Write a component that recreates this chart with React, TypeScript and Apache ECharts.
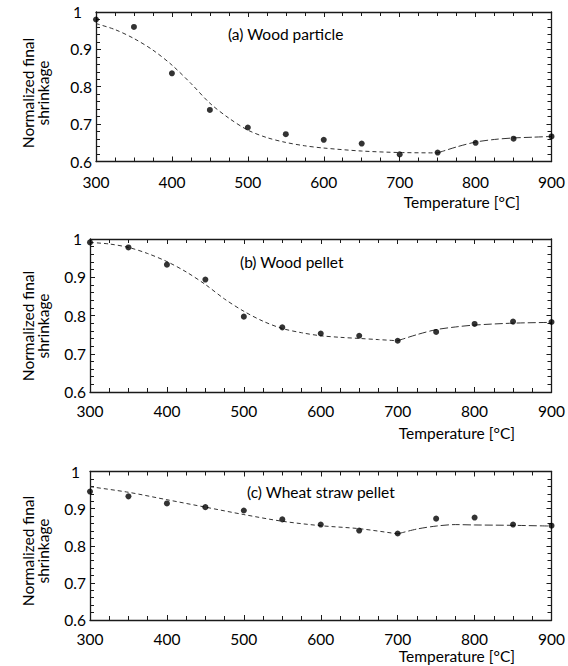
import { useEffect, useRef } from "react";
import * as echarts from "echarts";

// Heat-treatment temperatures (°C) shared by all three materials
const TEMPS = [300, 350, 400, 450, 500, 550, 600, 650, 700, 750, 800, 850, 900];

// Measured normalized final shrinkage
const SHRINK_WOOD_PARTICLE = [0.98, 0.96, 0.836, 0.738, 0.691, 0.673, 0.658, 0.648, 0.619, 0.624, 0.65, 0.661, 0.667];
const SHRINK_WOOD_PELLET = [0.991, 0.978, 0.933, 0.894, 0.797, 0.769, 0.753, 0.747, 0.734, 0.757, 0.778, 0.784, 0.783];
const SHRINK_WHEAT_PELLET = [0.946, 0.933, 0.914, 0.904, 0.895, 0.871, 0.857, 0.841, 0.833, 0.873, 0.876, 0.857, 0.854];

// Model curves: low-temperature branch and high-temperature branch
const FIT_A_T1 = [300, 325, 350, 375, 400, 425, 450, 475, 500, 525, 550, 575, 600, 650, 700, 750];
const FIT_A_V1 = [0.969, 0.953, 0.929, 0.898, 0.858, 0.809, 0.756, 0.716, 0.684, 0.664, 0.651, 0.642, 0.636, 0.628, 0.624, 0.623];
const FIT_A_T2 = [750, 775, 800, 825, 850, 875, 900];
const FIT_A_V2 = [0.623, 0.639, 0.652, 0.659, 0.663, 0.665, 0.667];

const FIT_B_T1 = [300, 325, 350, 375, 400, 425, 450, 475, 500, 525, 550, 575, 600, 625, 650, 675, 700];
const FIT_B_V1 = [0.991, 0.987, 0.978, 0.962, 0.941, 0.914, 0.881, 0.843, 0.811, 0.785, 0.766, 0.755, 0.747, 0.743, 0.74, 0.737, 0.734];
const FIT_B_T2 = [700, 725, 750, 775, 800, 850, 900];
const FIT_B_V2 = [0.734, 0.75, 0.763, 0.77, 0.775, 0.78, 0.782];

const FIT_C_T1 = [300, 350, 400, 450, 500, 550, 600, 650, 700];
const FIT_C_V1 = [0.959, 0.944, 0.924, 0.904, 0.884, 0.866, 0.854, 0.846, 0.832];
const FIT_C_T2 = [700, 725, 750, 775, 800, 850, 900];
const FIT_C_V2 = [0.832, 0.845, 0.853, 0.857, 0.856, 0.855, 0.853];

// Axis ticks
const X_MIN = 300;
const X_MAX = 900;
const X_STEP = 100;
const Y_MIN = 0.6;
const Y_MAX = 1;
const Y_STEP = 0.1;

const PANEL_TITLES = ["(a) Wood particle", "(b) Wood pellet", "(c) Wheat straw pellet"];
const X_TITLE = "Temperature [°C]";
const Y_TITLE = "Normalized final\nshrinkage";

const FONT = 'Lato, "Open Sans", sans-serif';
const FS = 15.5;
const LH = 15;
const INK = "#000";
const AXIS = "#1a1a1a";

const pairs = (xs: number[], ys: number[]) => xs.map((x, i) => [x, ys[i]]);

const PANELS = [
  {
    grid: { left: 96, top: 12, width: 459, height: 149.5 },
    points: SHRINK_WOOD_PARTICLE,
    fit1: pairs(FIT_A_T1, FIT_A_V1),
    fit2: pairs(FIT_A_T2, FIT_A_V2),
    titlePos: [228, 34],
    xTitlePos: [520, 202],
    yTitlePos: [35.5, 93],
    xLabelMargin: 12.5,
    onePad: 10,
  },
  {
    grid: { left: 90, top: 239, width: 465, height: 153 },
    points: SHRINK_WOOD_PELLET,
    fit1: pairs(FIT_B_T1, FIT_B_V1),
    fit2: pairs(FIT_B_T2, FIT_B_V2),
    titlePos: [240, 262],
    xTitlePos: [515, 433],
    yTitlePos: [35.5, 326],
    xLabelMargin: 11.5,
    onePad: 4,
  },
  {
    grid: { left: 90, top: 471.5, width: 465, height: 148.5 },
    points: SHRINK_WHEAT_PELLET,
    fit1: pairs(FIT_C_T1, FIT_C_V1),
    fit2: pairs(FIT_C_T2, FIT_C_V2),
    titlePos: [247, 492],
    xTitlePos: [515, 656],
    yTitlePos: [35.5, 551],
    xLabelMargin: 11,
    onePad: 6,
  },
];

const lineStyle = { color: AXIS, width: 1.3 };

function xAxisFor(gridIndex: number, position: "bottom" | "top", margin: number) {
  return {
    type: "value",
    gridIndex,
    position,
    min: X_MIN,
    max: X_MAX,
    interval: X_STEP,
    axisLine: { show: true, onZero: false, lineStyle },
    axisTick: { show: true, inside: true, length: 5, lineStyle: { color: AXIS, width: 1 } },
    minorTick: { show: true, splitNumber: 4, length: 4, lineStyle: { color: AXIS, width: 1 } },
    splitLine: { show: false },
    minorSplitLine: { show: false },
    axisLabel: {
      show: position === "bottom",
      margin,
      fontSize: FS,
      lineHeight: LH,
      fontFamily: FONT,
      color: INK,
    },
  };
}

function yAxisFor(gridIndex: number, position: "left" | "right", onePad: number) {
  return {
    type: "value",
    gridIndex,
    position,
    min: Y_MIN,
    max: Y_MAX,
    interval: Y_STEP,
    axisLine: { show: true, onZero: false, lineStyle },
    axisTick: { show: true, inside: true, length: 5, lineStyle: { color: AXIS, width: 1 } },
    minorTick: { show: true, splitNumber: 5, length: 4, lineStyle: { color: AXIS, width: 1 } },
    splitLine: { show: false },
    minorSplitLine: { show: false },
    axisLabel: {
      show: position === "left",
      margin: 4,
      fontSize: FS,
      lineHeight: LH,
      fontFamily: FONT,
      color: INK,
      formatter: (v: number) => (Math.abs(v - 1) < 1e-6 ? "{one|1}" : v.toFixed(1)),
      rich: {
        one: { fontSize: FS, lineHeight: LH, fontFamily: FONT, color: INK, padding: [0, onePad, 0, 0] },
      },
    },
  };
}

export default function App() {
  const ref = useRef<HTMLDivElement>(null);

  useEffect(() => {
    if (!ref.current) return;
    const chart = echarts.init(ref.current, null, { renderer: "svg" });

    const grids: any[] = [];
    const xAxes: any[] = [];
    const yAxes: any[] = [];
    const series: any[] = [];
    const graphics: any[] = [];

    PANELS.forEach((p, i) => {
      grids.push({ ...p.grid, containLabel: false });
      xAxes.push(xAxisFor(i, "bottom", p.xLabelMargin));
      xAxes.push(xAxisFor(i, "top", p.xLabelMargin));
      yAxes.push(yAxisFor(i, "left", p.onePad));
      yAxes.push(yAxisFor(i, "right", p.onePad));

      const axisRef = { xAxisIndex: i * 2, yAxisIndex: i * 2 };
      series.push({
        type: "line",
        ...axisRef,
        data: p.fit1,
        smooth: 0.3,
        symbol: "none",
        lineStyle: { color: "#333", width: 1, type: [4, 3] },
        z: 2,
      });
      series.push({
        type: "line",
        ...axisRef,
        data: p.fit2,
        smooth: 0.3,
        symbol: "none",
        lineStyle: { color: "#333", width: 1, type: [8, 3] },
        z: 2,
      });
      series.push({
        type: "scatter",
        ...axisRef,
        data: pairs(TEMPS, p.points),
        symbol: "circle",
        symbolSize: 6,
        clip: false,
        itemStyle: { color: "#000" },
        z: 3,
      });

      graphics.push({
        type: "text",
        x: p.titlePos[0],
        y: p.titlePos[1],
        style: {
          text: PANEL_TITLES[i],
          fontSize: FS,
          lineHeight: LH,
          fontFamily: FONT,
          fill: INK,
          align: "left",
          verticalAlign: "middle",
        },
      });
      graphics.push({
        type: "text",
        x: p.xTitlePos[0],
        y: p.xTitlePos[1],
        style: {
          text: X_TITLE,
          fontSize: FS,
          lineHeight: LH,
          fontFamily: FONT,
          fill: INK,
          align: "right",
          verticalAlign: "middle",
        },
      });
      graphics.push({
        type: "text",
        x: p.yTitlePos[0],
        y: p.yTitlePos[1],
        rotation: Math.PI / 2,
        style: {
          text: Y_TITLE,
          fontSize: FS,
          lineHeight: LH,
          fontFamily: FONT,
          fill: INK,
          align: "center",
          verticalAlign: "middle",
        },
      });
    });

    chart.setOption({
      animation: false,
      backgroundColor: "#fff",
      grid: grids,
      xAxis: xAxes,
      yAxis: yAxes,
      series,
      graphic: graphics,
    });

    return () => chart.dispose();
  }, []);

  return (
    <div
      ref={ref}
      style={{ position: "absolute", left: 0, top: 0, width: 568, height: 666 }}
    />
  );
}
